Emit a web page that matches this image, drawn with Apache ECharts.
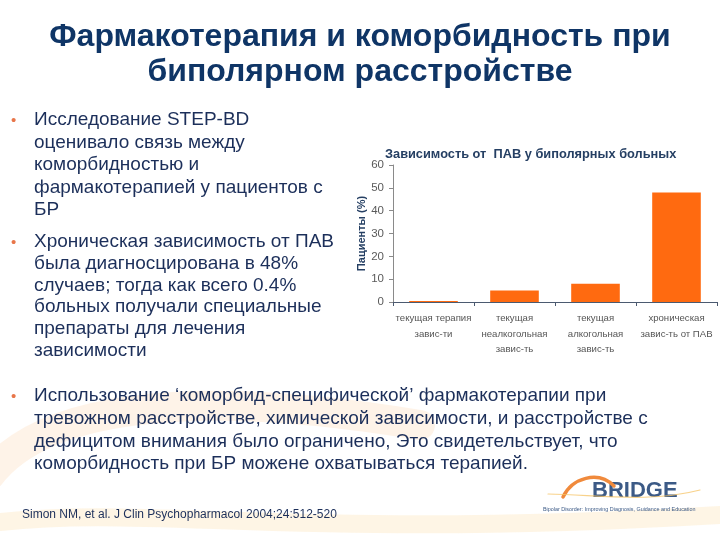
<!DOCTYPE html>
<html><head><meta charset="utf-8">
<script src="https://cdn.jsdelivr.net/npm/echarts@6/dist/echarts.min.js"></script>
<style>html,body{margin:0;padding:0;background:#fff}#c{width:720px;height:540px}</style>
</head><body><div id="c"></div>
<script>
const slideTitle = ['Фармакотерапия и коморбидность при', 'биполярном расстройстве'];
const chartTitle = 'Зависимость от  ПАВ у биполярных больных';
const yAxisName = 'Пациенты (%)';
const categories = ['текущая терапия\nзавис-ти', 'текущая\nнеалкогольная\nзавис-ть', 'текущая\nалкогольная\nзавис-ть', 'хроническая\nзавис-ть от ПАВ'];
const values = [0.4, 5, 8, 48];
const bullet1 = ['Исследование STEP-BD', 'оценивало связь между', 'коморбидностью и', 'фармакотерапией у пациентов с', 'БР'];
const bullet2 = ['Хроническая зависимость от ПАВ', 'была диагносцирована в 48%', 'случаев; тогда как всего 0.4%', 'больных получали специальные', 'препараты для лечения', 'зависимости'];
const bullet3 = ['Использование ‘коморбид-специфической’ фармакотерапии при', 'тревожном расстройстве, химической зависимости, и расстройстве с', 'дефицитом внимания было ограничено, Это свидетельствует, что', 'коморбидность при БР можене охватываться терапией.'];
const citation = 'Simon NM, et al. J Clin Psychopharmacol 2004;24:512-520';

const FONT = '"Liberation Sans", Arial, sans-serif';
const TXT = '#1c2f5a';
const gfx = [];
function curve(x1,y1,cx1,cy1,cx2,cy2,x2,y2,color,w,z){
  gfx.push({type:'bezierCurve', silent:true, z:z, shape:{x1,y1,x2,y2,cpx1:cx1,cpy1:cy1,cpx2:cx2,cpy2:cy2}, style:{stroke:color, lineWidth:w, fill:null, lineCap:'round'}});
}
function txt(s, x, y, font, fill, align){
  gfx.push({type:'text', silent:true, style:{text:s, x:x, y:y, font:font, fill:fill, align:align||'left', verticalAlign:'middle'}});
}
// background swooshes
curve(-10,475, 40,410, 180,385, 420,425, 'rgba(245,165,80,0.13)', 30, -10);
curve(0,522, 150,505, 300,540, 720,515, 'rgba(250,200,110,0.18)', 18, -10);
// slide title
slideTitle.forEach((t,i)=>txt(t, 360, 37+i*35, 'bold 32px '+FONT, '#0f3566', 'center'));
function addLines(lines, y0, step){
  txt('•', 11, y0+1, '15px '+FONT, '#e8764a');
  lines.forEach((t,i)=>txt(t, 34, y0+i*step, '19px '+FONT, TXT));
}
addLines(bullet1, 120, 22.5);
addLines(bullet2, 242, 21.7);
addLines(bullet3, 396, 22.7);
txt(citation, 22, 515, '12px '+FONT, TXT);
// BRIDGE logo
curve(563,497, 572,478, 598,470, 614,486, '#f08a3c', 3.5, 1);
curve(548,494, 600,495, 650,503, 700,490, 'rgba(245,195,100,0.75)', 1.2, 1);
txt('BRIDGE', 592, 491, 'bold 22px '+FONT, '#3c5a86');
txt('Bipolar Disorder: Improving Diagnosis, Guidance and Education', 543, 510, '5.4px '+FONT, '#3c5a86');

const chart = echarts.init(document.getElementById('c'), null, {renderer:'canvas'});
chart.setOption({
  animation:false,
  backgroundColor:'#ffffff',
  textStyle:{fontFamily:FONT},
  title:{text:chartTitle, left:380, top:143, textStyle:{fontSize:12.8, fontWeight:'bold', color:'#253f63', fontFamily:FONT}},
  grid:{left:393, top:165, right:3, bottom:238, containLabel:false},
  xAxis:{type:'category', data:categories,
    axisLine:{lineStyle:{color:'#4b5a70', width:1}},
    axisTick:{show:true, length:4, lineStyle:{color:'#4b5a70'}},
    axisLabel:{fontSize:9.6, color:'#555', lineHeight:15.5, margin:9, interval:0, fontFamily:FONT}},
  yAxis:{type:'value', min:0, max:60, interval:10,
    name:yAxisName, nameLocation:'middle', nameGap:26, nameRotate:90,
    nameTextStyle:{fontSize:11, fontWeight:'bold', color:'#253f63', fontFamily:FONT},
    axisLine:{show:true, lineStyle:{color:'#8a8a8a'}},
    axisTick:{show:true, length:4, lineStyle:{color:'#8a8a8a'}},
    splitLine:{show:false},
    axisLabel:{fontSize:11.5, color:'#5a5a5a', margin:9, fontFamily:FONT}},
  series:[{type:'bar', data:values, barWidth:'60%', itemStyle:{color:'#ff6a10'}}],
  graphic:gfx
});
</script></body></html>
